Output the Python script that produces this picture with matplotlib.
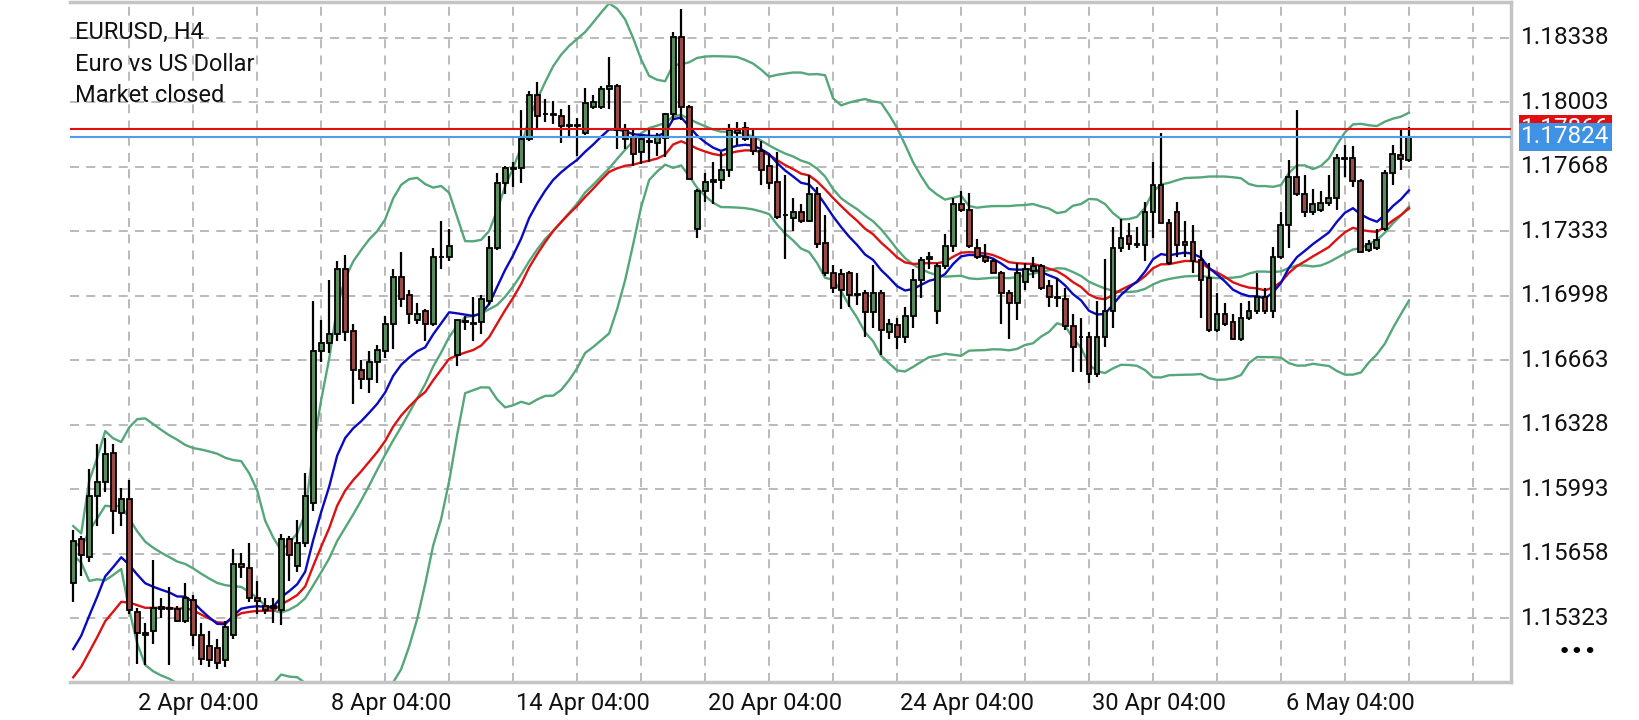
import numpy as np
import pandas as pd
import matplotlib
matplotlib.use("Agg")
import matplotlib.pyplot as plt

opens = [1.15509,1.15738,1.15640,1.15957,1.16033,1.16180,1.15869,1.15946,1.15356,1.15247,
1.15257,1.15371,1.15378,1.15371,1.15312,1.15421,1.15236,1.15181,1.15170,1.15105,
1.15236,1.15607,1.15585,1.15432,1.15389,1.15389,1.15367,1.15738,1.15596,1.15716,
1.15924,1.16711,1.16754,1.16798,1.17137,1.16815,1.16616,1.16568,1.16656,1.16711,
1.16853,1.17099,1.17005,1.16874,1.16918,1.16853,1.17198,1.17198,1.16689,1.16863,
1.16853,1.16863,1.16973,1.17246,1.17585,1.17657,1.17661,1.17814,1.18043,1.17945,
1.17941,1.17934,1.17884,1.17879,1.17847,1.17978,1.17978,1.18072,1.18091,1.17858,
1.17825,1.17744,1.17803,1.17792,1.17818,1.17941,1.18343,1.17978,1.17344,1.17541,
1.17589,1.17600,1.17650,1.17858,1.17869,1.17825,1.17753,1.17672,1.17591,1.17416,
1.17405,1.17432,1.17388,1.17526,1.17272,1.17119,1.17110,1.17115,1.17005,1.17016,
1.16914,1.17016,1.16813,1.16848,1.16783,1.16892,1.17082,1.17191,1.16922,1.17154,
1.17257,1.17475,1.17442,1.17246,1.17198,1.17180,1.17119,1.17016,1.16962,1.17071,
1.17126,1.17154,1.17049,1.16995,1.16984,1.16842,1.16787,1.16787,1.16595,1.16787,
1.16922,1.17246,1.17311,1.17263,1.17263,1.17432,1.17574,1.17377,1.17436,1.17279,
1.17279,1.17185,1.17093,1.16820,1.16907,1.16863,1.16776,1.16885,1.16918,1.16995,
1.16918,1.17202,1.17366,1.17617,1.17530,1.17432,1.17447,1.17482,1.17508,1.17716,
1.17716,1.17595,1.17235,1.17246,1.17344,1.17639,1.17731,1.17705]

highs = [1.15782,1.15749,1.16099,1.16230,1.16263,1.16230,1.16000,1.16044,1.15378,1.15301,
1.15629,1.15432,1.15487,1.15389,1.15509,1.15443,1.15301,1.15257,1.15214,1.15312,
1.15684,1.15662,1.15716,1.15520,1.15432,1.15432,1.15760,1.15749,1.15837,1.16077,
1.16973,1.16874,1.17082,1.17180,1.17213,1.16853,1.16667,1.16711,1.16743,1.16896,
1.17137,1.17228,1.17027,1.16962,1.16929,1.17246,1.17388,1.17344,1.16874,1.16896,
1.16995,1.17005,1.17311,1.17639,1.17672,1.17694,1.17963,1.18065,1.18109,1.18022,
1.18011,1.17967,1.17989,1.17923,1.18076,1.18043,1.18087,1.18240,1.18098,1.17890,
1.17858,1.17836,1.17858,1.17847,1.17949,1.18371,1.18491,1.17989,1.17552,1.17639,
1.17694,1.17748,1.17890,1.17901,1.17901,1.17858,1.17803,1.17737,1.17748,1.17628,
1.17508,1.17475,1.17628,1.17563,1.17421,1.17158,1.17137,1.17126,1.17115,1.17027,
1.17158,1.17027,1.16879,1.16885,1.16940,1.17137,1.17198,1.17224,1.17169,1.17322,
1.17508,1.17541,1.17534,1.17294,1.17268,1.17191,1.17126,1.17027,1.17169,1.17169,
1.17202,1.17163,1.17082,1.17093,1.17038,1.16907,1.16885,1.16809,1.16973,1.17191,
1.17355,1.17399,1.17377,1.17355,1.17486,1.17694,1.17847,1.17399,1.17486,1.17388,
1.17366,1.17235,1.17169,1.17016,1.16962,1.16907,1.16962,1.16973,1.17115,1.17038,
1.17250,1.17432,1.17705,1.17963,1.17628,1.17552,1.17541,1.17628,1.17737,1.17781,
1.17775,1.17606,1.17290,1.17344,1.17650,1.17781,1.17869,1.17875]

lows = [1.15410,1.15542,1.15618,1.15804,1.15979,1.15760,1.15804,1.15345,1.15087,1.15083,
1.15192,1.15323,1.15083,1.15306,1.15301,1.15181,1.15083,1.15072,1.15061,1.15072,
1.15214,1.15531,1.15410,1.15345,1.15345,1.15301,1.15290,1.15520,1.15563,1.15694,
1.15880,1.16656,1.16700,1.16765,1.16765,1.16437,1.16514,1.16492,1.16547,1.16678,
1.16721,1.16940,1.16853,1.16853,1.16765,1.16842,1.17137,1.17180,1.16634,1.16820,
1.16765,1.16798,1.16951,1.17235,1.17530,1.17563,1.17585,1.17803,1.17869,1.17901,
1.17890,1.17792,1.17825,1.17727,1.17836,1.17967,1.17967,1.17967,1.17759,1.17759,
1.17672,1.17683,1.17694,1.17727,1.17722,1.17912,1.17912,1.17606,1.17300,1.17486,
1.17475,1.17552,1.17617,1.17781,1.17803,1.17731,1.17574,1.17552,1.17399,1.17191,
1.17338,1.17377,1.17384,1.17246,1.17104,1.17016,1.16929,1.16940,1.16951,1.16787,
1.16831,1.16689,1.16776,1.16721,1.16754,1.16831,1.16988,1.17137,1.16853,1.17137,
1.17224,1.17432,1.17246,1.17191,1.17169,1.17115,1.16853,1.16776,1.16874,1.17027,
1.17093,1.17027,1.16940,1.16940,1.16820,1.16601,1.16601,1.16547,1.16579,1.16732,
1.16831,1.17224,1.17235,1.17246,1.17180,1.17300,1.17377,1.17158,1.17202,1.17202,
1.17115,1.16885,1.16809,1.16809,1.16842,1.16770,1.16765,1.16874,1.16907,1.16907,
1.16885,1.17191,1.17246,1.17519,1.17410,1.17421,1.17432,1.17464,1.17442,1.17617,
1.17563,1.17224,1.17224,1.17235,1.17333,1.17574,1.17650,1.17694]

closes = [1.15727,1.15651,1.15957,1.16033,1.16175,1.15880,1.15946,1.15367,1.15247,1.15236,
1.15378,1.15381,1.15373,1.15312,1.15432,1.15236,1.15115,1.15105,1.15094,1.15279,
1.15607,1.15590,1.15432,1.15415,1.15367,1.15378,1.15738,1.15651,1.15716,1.15957,
1.16711,1.16754,1.16798,1.17137,1.16809,1.16612,1.16568,1.16656,1.16715,1.16853,
1.17099,1.16984,1.16907,1.16907,1.16853,1.17202,1.17202,1.17257,1.16874,1.16863,
1.16853,1.16984,1.17246,1.17585,1.17661,1.17665,1.17814,1.18043,1.17934,1.17941,
1.17936,1.17879,1.17879,1.17888,1.18000,1.18006,1.18072,1.18087,1.17858,1.17814,
1.17737,1.17814,1.17799,1.17825,1.17941,1.18343,1.17978,1.17606,1.17541,1.17589,
1.17600,1.17650,1.17858,1.17847,1.17814,1.17753,1.17650,1.17585,1.17410,1.17416,
1.17432,1.17388,1.17526,1.17268,1.17119,1.17038,1.17027,1.17005,1.17005,1.16914,
1.17016,1.16820,1.16853,1.16783,1.16892,1.17082,1.17185,1.17202,1.17154,1.17257,
1.17475,1.17442,1.17257,1.17198,1.17180,1.17115,1.17016,1.16962,1.17115,1.17137,
1.17154,1.17038,1.16995,1.16990,1.16842,1.16732,1.16783,1.16595,1.16787,1.16922,
1.17246,1.17300,1.17268,1.17268,1.17432,1.17574,1.17377,1.17169,1.17263,1.17263,
1.17180,1.17082,1.16820,1.16907,1.16853,1.16776,1.16885,1.16918,1.16995,1.16918,
1.17202,1.17366,1.17617,1.17530,1.17432,1.17475,1.17482,1.17508,1.17716,1.17711,
1.17595,1.17224,1.17268,1.17290,1.17639,1.17737,1.17709,1.17824]

y_ticks = [1.18338, 1.18003, 1.17668, 1.17333, 1.16998, 1.16663, 1.16328, 1.15993, 1.15658, 1.15323]
x_labels = ["2 Apr 04:00", "8 Apr 04:00", "14 Apr 04:00", "20 Apr 04:00",
            "24 Apr 04:00", "30 Apr 04:00", "6 May 04:00"]
x_label_idx = [15.7, 39.7, 63.7, 87.7, 111.7, 135.7, 159.7]
ask_price = 1.17866
bid_price = 1.17824
blue_seed = 1.1507   # fast MA level at left edge
red_seed = 1.1495    # slow MA level at left edge

o = np.array(opens); h = np.array(highs); l = np.array(lows); c = np.array(closes)
n = len(c)
idx = np.arange(n)

def ema(vals, period, seed):
    a = 2.0 / (period + 1)
    out = []
    v = seed
    for x in vals:
        v = v + a * (x - v)
        out.append(v)
    return np.array(out)

s = pd.Series(c)
mid = s.rolling(20, min_periods=1).mean().values
sd = s.rolling(20, min_periods=2).std(ddof=0).bfill().values
upper = mid + 2 * sd
lower = mid - 2 * sd
blue = ema(c, 13, blue_seed)
red = ema(c, 22, red_seed)

fig = plt.figure(figsize=(16.4, 7.2), dpi=100, facecolor="white")
ax = fig.add_axes([0.0427, 0.053, 0.9213 - 0.0427, 0.944])
ax.set_facecolor("white")

ymin, ymax = 1.14994, 1.18524
ax.set_ylim(ymin, ymax)
ax.set_xlim(-0.4, 179.75)

gridc = "#b4b4b4"
for yt in y_ticks:
    ax.axhline(yt, color=gridc, lw=1.3, ls=(0, (5, 4)), zorder=0)
for gx in range(7, 180, 8):
    ax.axvline(gx, color=gridc, lw=1.3, ls=(0, (5, 4)), zorder=0)

gc = "#55a77a"
ax.plot(idx, upper, color=gc, lw=1.7, zorder=2)
ax.plot(idx, mid, color=gc, lw=1.7, zorder=2)
ax.plot(idx, lower, color=gc, lw=1.7, zorder=2)
ax.plot(idx, red, color="#dd1111", lw=1.7, zorder=2)
ax.plot(idx, blue, color="#0a0ac0", lw=1.7, zorder=2)

bull = "#5b8a60"; bear = "#9a4a47"
ax.vlines(idx, l, h, color="black", lw=1.6, zorder=3)
bodies_lo = np.minimum(o, c)
bodies_h = np.maximum(np.abs(c - o), 0.00003)
cols = [bull if cc >= oo else bear for oo, cc in zip(o, c)]
ax.bar(idx, bodies_h, bottom=bodies_lo, width=0.62, color=cols,
       edgecolor="black", linewidth=1.3, zorder=4)

ax.axhline(ask_price, color="#e01010", lw=1.5, zorder=5)
ax.axhline(bid_price, color="#4f9de6", lw=1.5, zorder=5)

ax.spines["left"].set_visible(False)
for sp in ["top", "right", "bottom"]:
    ax.spines[sp].set_color("#c4c4c4")
    ax.spines[sp].set_linewidth(2.5)

ax.set_xticks([]); ax.set_yticks([])

trans = ax.get_yaxis_transform()
fam = ["Roboto", "DejaVu Sans"]
for yt in y_ticks:
    ax.text(1.007, yt, f"{yt:.5f}", transform=trans, ha="left", va="center",
            fontsize=17.5, family=fam, color="#111111", clip_on=False)

ax.text(1.007, ask_price, f"{ask_price:.5f}", transform=trans, ha="left", va="center",
        fontsize=17.5, family=fam, color="white", clip_on=False, zorder=6,
        bbox=dict(boxstyle="square,pad=0.1", fc="#e01010", ec="none"))
ax.text(1.007, bid_price, f"{bid_price:.5f}", transform=trans, ha="left", va="center",
        fontsize=17.5, family=fam, color="white", clip_on=False, zorder=7,
        bbox=dict(boxstyle="square,pad=0.1", fc="#3f92e4", ec="none"))

for xi, lab in zip(x_label_idx, x_labels):
    ax.text(xi, -0.015, lab, transform=ax.get_xaxis_transform(), ha="center", va="top",
            fontsize=17, family=fam, color="#111111", clip_on=False)

for k, t in enumerate(["EURUSD, H4", "Euro vs US Dollar", "Market closed"]):
    fig.text(0.046, 0.955 - k * 0.044, t, ha="left", va="center", fontsize=17,
             family=fam, color="#111111")

fig.text(0.962, 0.095, "•••", ha="center", va="center", fontsize=16,
         family=["DejaVu Sans"], color="black")

fig.savefig("out.png", dpi=100, facecolor="white")
